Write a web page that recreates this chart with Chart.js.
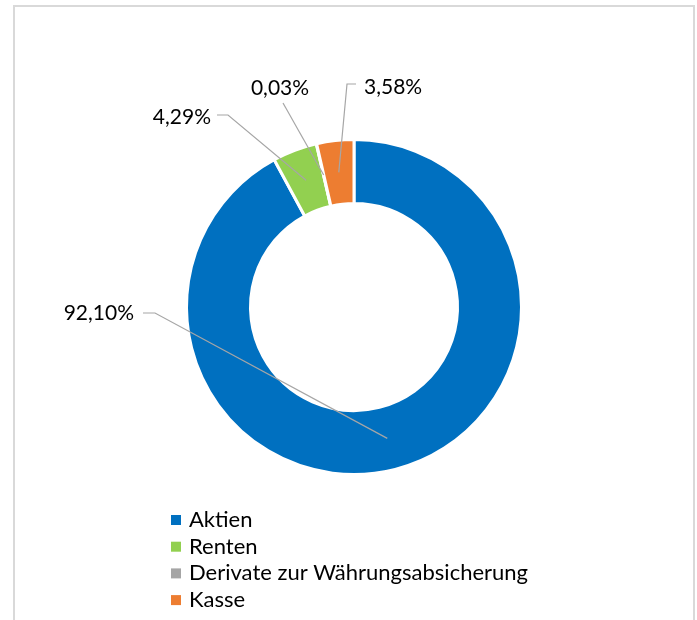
<!DOCTYPE html>
<html>
<head>
<meta charset="utf-8">
<script src="https://cdn.jsdelivr.net/npm/chart.js@4"></script>
<style>
  html, body { margin: 0; background: #fff; }
  canvas { display: block; }
</style>
</head>
<body>
<canvas id="c" width="697" height="620"></canvas>
<script>
/* Portfolio split: doughnut with callout labels and a stacked legend below. */
const labels = ["Aktien", "Renten", "Derivate zur Währungsabsicherung", "Kasse"];
const shares = [92.10, 4.29, 0.03, 3.58];
const colors = ["#0070C0", "#92D050", "#A5A5A5", "#ED7D31"];
const pctText = v => v.toFixed(2).replace(".", ",") + "%";

// callout placement per slice (layout only): text anchor, line start, optional elbow
const callouts = [
  { tx: 134, ty: 313, align: "right", from: [143, 313], elbow: [155, 313] },
  { tx: 211, ty: 117, align: "right", from: [217, 115], elbow: [228, 115] },
  { tx: 280, ty: 88, align: "center", from: [283, 103], elbow: null },
  { tx: 364, ty: 87, align: "left", from: [356, 84], elbow: [347, 84] },
];
const FONT = "Lato, 'Open Sans', sans-serif";

const frame = {
  id: "frame",
  beforeDraw(chart) {
    const ctx = chart.ctx;
    ctx.save();
    ctx.strokeStyle = "#d9d9d9"; ctx.lineWidth = 2;
    ctx.strokeRect(14, 6, 680, 700);
    ctx.restore();
  },
};

const callout = {
  id: "callout",
  afterDraw(chart) {
    const ctx = chart.ctx;
    const arcs = chart.getDatasetMeta(0).data;
    ctx.save();
    ctx.font = "21px " + FONT;
    ctx.textBaseline = "middle";
    arcs.forEach((arc, i) => {
      const c = callouts[i], p = arc.getCenterPoint();
      ctx.strokeStyle = "#a6a6a6"; ctx.lineWidth = 1.2;
      ctx.beginPath();
      ctx.moveTo(c.from[0], c.from[1]);
      if (c.elbow) ctx.lineTo(c.elbow[0], c.elbow[1]);
      ctx.lineTo(p.x, p.y);
      ctx.stroke();
      ctx.fillStyle = "#000";
      ctx.textAlign = c.align;
      ctx.fillText(pctText(shares[i]), c.tx, c.ty);
    });
    // legend, one entry per row
    ctx.font = "22px " + FONT;
    ctx.textAlign = "left";
    labels.forEach((l, i) => {
      const y = 520 + i * 26.7;
      ctx.fillStyle = colors[i];
      ctx.fillRect(171, y - 5, 10, 10);
      ctx.fillStyle = "#000";
      ctx.fillText(l, 189, y);
    });
    ctx.restore();
  },
};

new Chart(document.getElementById("c"), {
  type: "doughnut",
  data: {
    labels,
    datasets: [{ data: shares, backgroundColor: colors, borderColor: "#fff", borderWidth: 3, hoverOffset: 0 }],
  },
  options: {
    responsive: false, animation: false,
    radius: 167.5, cutout: "61.8%",
    layout: { padding: { left: 11, right: 0, top: 0, bottom: 6 } },
    plugins: { legend: { display: false }, tooltip: { enabled: false } },
    events: [],
  },
  plugins: [frame, callout],
});
</script>
</body>
</html>
